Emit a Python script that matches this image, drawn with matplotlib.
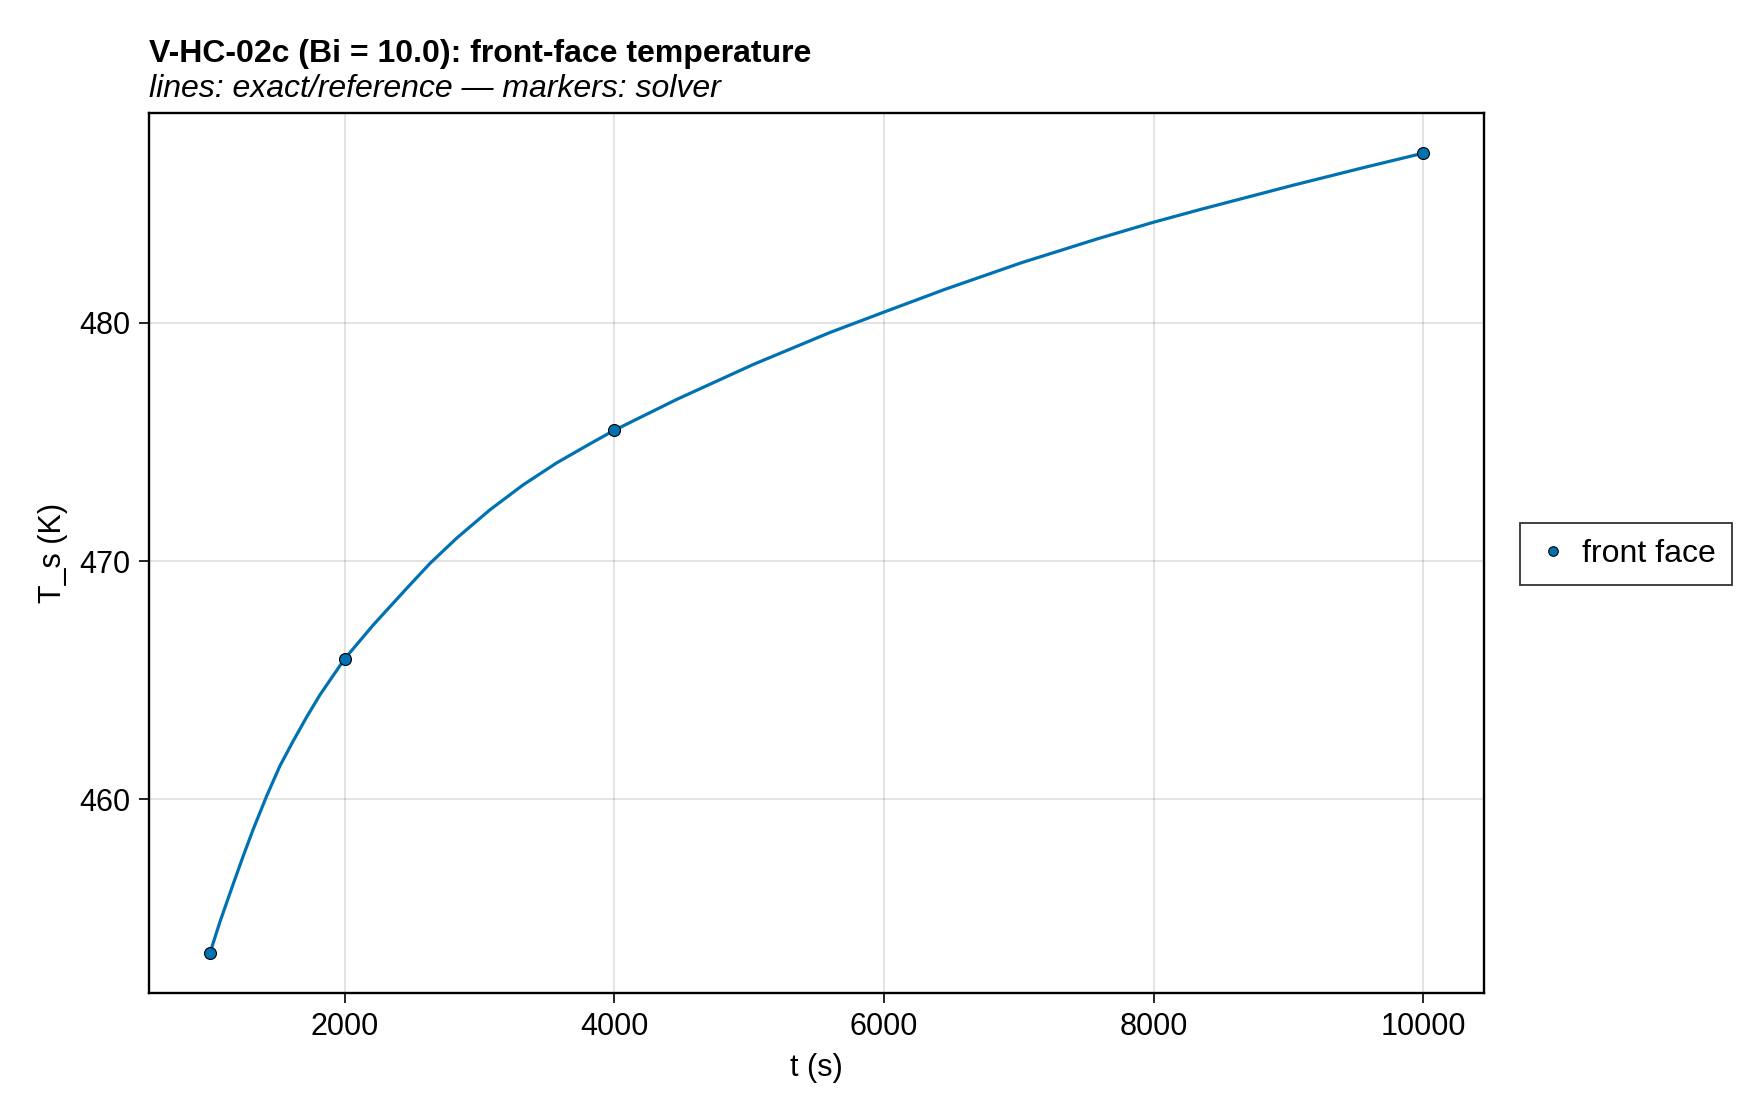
import matplotlib
matplotlib.use('Agg')
import matplotlib.pyplot as plt

plt.rcParams['font.family'] = ['Liberation Sans', 'DejaVu Sans']

BLUE = '#0072B2'

# exact / reference curve
t_ref = [1000, 1074, 1173, 1247, 1321, 1421, 1519, 1618, 1717, 1816, 1915,
         2000, 2212, 2459, 2632, 2830, 3077, 3324, 3572, 3819, 4000, 4461,
         5030, 5598, 6005, 6450, 7019, 7587, 8005, 8349, 9032, 9562, 10000]
T_ref = [453.54, 454.85, 456.45, 457.62, 458.74, 460.14, 461.40, 462.45,
         463.45, 464.38, 465.20, 465.90, 467.32, 468.85, 469.90, 470.96,
         472.15, 473.20, 474.12, 474.92, 475.49, 476.78, 478.25, 479.59,
         480.46, 481.40, 482.52, 483.53, 484.23, 484.76, 485.77, 486.52,
         487.12]

# solver samples
t_solver = [1000, 2000, 4000, 10000]
T_solver = [453.54, 465.9, 475.49, 487.12]

fig = plt.figure(figsize=(17.6, 11.2), dpi=100)
ax = fig.add_axes([0.0848, 0.1134, 0.7584, 0.7854])

ax.plot(t_ref, T_ref, color=BLUE, lw=2.3, zorder=3,
        solid_joinstyle='round', solid_capstyle='round')
ax.plot(t_solver, T_solver, ls='none', marker='o', ms=8.6, mfc=BLUE,
        mec='black', mew=0.8, zorder=4, label='front face')

ax.set_xlim(550, 10450)
ax.set_ylim(451.87, 488.79)
ax.set_xticks([2000, 4000, 6000, 8000, 10000])
ax.set_yticks([460, 470, 480])

ax.grid(True, color='black', alpha=0.12, lw=1.3)
ax.set_axisbelow(True)
for s in ax.spines.values():
    s.set_linewidth(1.7)
ax.tick_params(labelsize=22, length=7.5, width=1.2, pad=6, direction='out')

ax.set_xlabel('t (s)', fontsize=22, labelpad=8)
ax.set_ylabel('T_s (K)', fontsize=22, labelpad=8)

fig.text(0.0848, 0.9449, 'V-HC-02c (Bi = 10.0): front-face temperature',
         fontsize=23, fontweight='bold', ha='left', va='baseline')
fig.text(0.0848, 0.9135, 'lines: exact/reference \u2014 markers: solver',
         fontsize=23, style='italic', ha='left', va='baseline')

leg = fig.legend(loc='center left', bbox_to_anchor=(0.8635, 0.5054),
                 borderaxespad=0, fontsize=23, frameon=True, fancybox=False,
                 handletextpad=0.35, borderpad=0.5, handlelength=1.1,
                 markerscale=0.8)
leg.get_frame().set_edgecolor('black')
leg.get_frame().set_linewidth(1.3)

fig.savefig('out.png', dpi=100, facecolor='white')
